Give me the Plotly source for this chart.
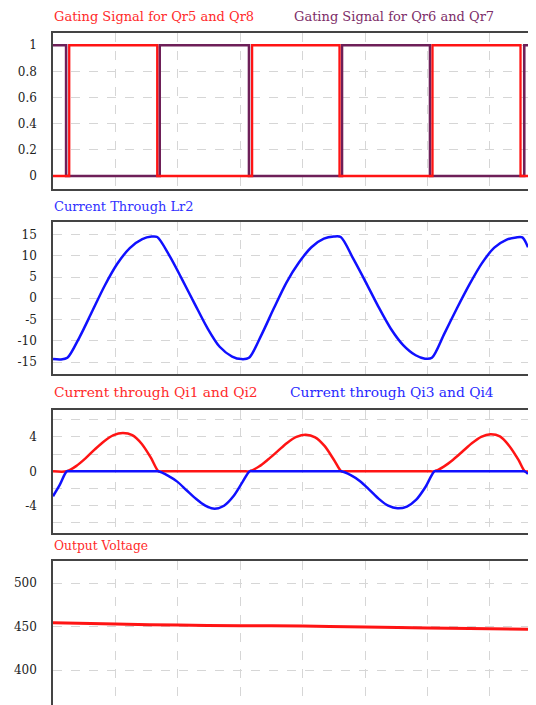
import plotly.graph_objects as go

# ---------------- data ----------------
# time axis in grid units (vertical grid every 1 unit)
gate_a_t = [0, 0.26, 1.67, 3.19, 4.59, 6.08, 7.49, 7.61]      # Qr5 / Qr8
gate_a_v = [0, 1, 0, 1, 0, 1, 0, 0]
gate_b_t = [0, 0.21, 1.71, 3.14, 4.63, 6.04, 7.55, 7.61]      # Qr6 / Qr7
gate_b_v = [1, 0, 1, 0, 1, 0, 1, 1]

ilr_t = [0, 0.12, 0.23, 0.43, 0.63, 0.83, 1.03, 1.23, 1.43, 1.58, 1.67,
         1.87, 2.07, 2.27, 2.47, 2.67, 2.87, 3.02, 3.14,
         3.34, 3.54, 3.74, 3.94, 4.14, 4.34, 4.50, 4.61,
         4.81, 5.01, 5.21, 5.41, 5.61, 5.81, 5.96, 6.07,
         6.27, 6.47, 6.67, 6.87, 7.07, 7.27, 7.42, 7.52, 7.61]
ilr_v = [-14.3, -14.4, -14.0, -9.0, -3.0, 3.0, 8.1, 11.8, 13.9, 14.5, 14.4,
         9.9, 4.4, -1.3, -6.9, -11.4, -13.7, -14.3, -14.0,
         -8.6, -2.3, 3.7, 8.4, 12.0, 14.0, 14.5, 14.4,
         9.3, 3.8, -1.9, -7.1, -11.0, -13.4, -14.2, -14.0,
         -8.3, -2.4, 3.2, 8.2, 11.9, 13.8, 14.3, 14.3, 12.0]

iq12_t = [0, 0.22, 0.37, 0.52, 0.67, 0.82, 0.97, 1.12, 1.27, 1.42, 1.57, 1.69, 1.75,
          3.09, 3.15, 3.30, 3.45, 3.60, 3.75, 3.90, 4.05, 4.20, 4.35, 4.50, 4.62, 4.68,
          6.05, 6.11, 6.26, 6.41, 6.56, 6.71, 6.86, 7.01, 7.16, 7.31, 7.46, 7.56, 7.61]
iq12_v = [0, 0, 0.6, 1.5, 2.55, 3.5, 4.2, 4.45, 4.2, 3.2, 1.55, 0, 0,
          0, 0, 0.55, 1.4, 2.35, 3.3, 4.0, 4.26, 3.95, 2.95, 1.35, 0, 0,
          0, 0, 0.55, 1.35, 2.3, 3.25, 4.0, 4.3, 4.05, 2.95, 1.3, 0, 0]

iq34_t = [0, 0.11, 0.22, 0.28, 1.63, 1.69, 1.84, 1.99, 2.14, 2.29, 2.44, 2.59, 2.74, 2.89, 3.04, 3.15,
          3.21, 4.56, 4.62, 4.77, 4.92, 5.07, 5.22, 5.37, 5.52, 5.67, 5.82, 5.97, 6.11,
          6.17, 7.50, 7.56, 7.61]
iq34_v = [-2.9, -1.55, 0, 0, 0, 0, -0.5, -1.2, -2.2, -3.2, -4.0, -4.35, -4.0, -2.9, -1.2, 0,
          0, 0, 0, -0.45, -1.15, -2.15, -3.2, -4.0, -4.3, -4.1, -3.3, -1.8, 0,
          0, 0, 0, -0.3]

vout_t = [0, 1, 2, 3, 4, 5, 6, 7, 7.61]
vout_v = [454.4, 452.9, 451.7, 451.0, 450.6, 449.4, 448.3, 447.5, 446.8]

p1_ticks = [0, 0.2, 0.4, 0.6, 0.8, 1]
p1_labels = ["0", "0.2", "0.4", "0.6", "0.8", "1"]
p2_ticks = [-15, -10, -5, 0, 5, 10, 15]
p2_labels = ["-15", "-10", "-5", "0", "5", "10", "15"]
p3_ticks = [-6, -4, -2, 0, 2, 4, 6]
p3_labels = ["", "-4", "", "0", "", "4", ""]
p4_ticks = [350, 400, 450, 500]
p4_labels = ["350", "400", "450", "500"]

# ---------------- styling ----------------
# the page body adds an 8 px margin, so the figure is laid out 8 px up/left
OFF = 8
W, H = 520, 697
ML, MR = 45, 0
RED = "#ff1414"
PURPLE = "#6e1f58"
BLUE = "#1010ff"
FONT = "DejaVu Serif"
GRID = "#d6d6d6"
BORDER = "#444444"

def dom(top_px, bot_px):
    t, b = top_px - OFF, bot_px - OFF
    return [max(0.0, 1 - b / H), 1 - t / H]

fig = go.Figure()

fig.add_trace(go.Scatter(x=gate_b_t, y=gate_b_v, mode="lines", line=dict(color=PURPLE, width=2.6, shape="hv"),
                         xaxis="x", yaxis="y"))
fig.add_trace(go.Scatter(x=gate_a_t, y=gate_a_v, mode="lines", line=dict(color=RED, width=2.3, shape="hv"),
                         xaxis="x", yaxis="y"))
fig.add_trace(go.Scatter(x=ilr_t, y=ilr_v, mode="lines", line=dict(color=BLUE, width=2.5, shape="spline", smoothing=0.8),
                         xaxis="x2", yaxis="y2"))
fig.add_trace(go.Scatter(x=iq12_t, y=iq12_v, mode="lines", line=dict(color=RED, width=2.5, shape="spline", smoothing=0.8),
                         xaxis="x3", yaxis="y3"))
fig.add_trace(go.Scatter(x=iq34_t, y=iq34_v, mode="lines", line=dict(color=BLUE, width=2.5, shape="spline", smoothing=0.8),
                         xaxis="x3", yaxis="y3"))
fig.add_trace(go.Scatter(x=vout_t, y=vout_v, mode="lines", line=dict(color=RED, width=3, shape="spline"),
                         xaxis="x4", yaxis="y4"))

xcommon = dict(range=[0, 7.61], tick0=0, dtick=1, showticklabels=False, ticks="",
               showgrid=True, gridcolor=GRID, griddash="dash", gridwidth=1, zeroline=False,
               showline=True, linecolor=BORDER, linewidth=1.5, mirror=True, fixedrange=True,
               automargin=False)
ycommon = dict(showgrid=True, gridcolor=GRID, griddash="dash", gridwidth=1, zeroline=False,
               showline=True, linecolor=BORDER, linewidth=1.5, mirror=True, ticks="",
               tickfont=dict(family=FONT, size=12, color="#222222"), ticklabelstandoff=12,
               fixedrange=True, automargin=False)

fig.update_layout(
    width=W, height=H,
    margin=dict(l=ML, r=MR, t=0, b=0, autoexpand=False),
    paper_bgcolor="white", plot_bgcolor="white",
    showlegend=False,
    xaxis=dict(xcommon, domain=[0, 1], anchor="y"),
    yaxis=dict(ycommon, domain=dom(32.7, 188.7), range=[-0.097, 1.096], tickvals=p1_ticks, ticktext=p1_labels, anchor="x"),
    xaxis2=dict(xcommon, domain=[0, 1], anchor="y2"),
    yaxis2=dict(ycommon, domain=dom(221.7, 374), range=[-17.8, 18.0], tickvals=p2_ticks, ticktext=p2_labels, anchor="x2"),
    xaxis3=dict(xcommon, domain=[0, 1], anchor="y3"),
    yaxis3=dict(ycommon, domain=dom(409.7, 533), range=[-7.17, 7.16], tickvals=p3_ticks, ticktext=p3_labels, anchor="x3"),
    xaxis4=dict(xcommon, domain=[0, 1], anchor="y4", side="top", mirror=False),
    yaxis4=dict(ycommon, domain=dom(560.5, 705), range=[359.8, 526], tickvals=p4_ticks, ticktext=p4_labels, anchor="x4"),
)

def title(text, x_px, y_px, color, size=13):
    fig.add_annotation(text=text, xref="paper", yref="paper",
                       x=(x_px - OFF - ML) / (W - ML - MR), y=1 - (y_px - OFF) / H,
                       xanchor="left", yanchor="middle", showarrow=False,
                       font=dict(family=FONT, size=size, color=color))

title("Gating Signal for Qr5 and Qr8", 52, 16.5, "#ff2a2a")
title("Gating Signal for Qr6 and Qr7", 292, 16.5, "#7d2d68")
title("Current Through Lr2", 52, 206.5, "#3030ff")
title("Current through Qi1 and Qi2", 52, 391.5, "#ff2a2a", 13.8)
title("Current through Qi3 and Qi4", 288, 391.5, "#2828ff", 13.8)
title("Output Voltage", 52, 546, "#ff2a2a", 12.3)

fig.write_html("out.html")
